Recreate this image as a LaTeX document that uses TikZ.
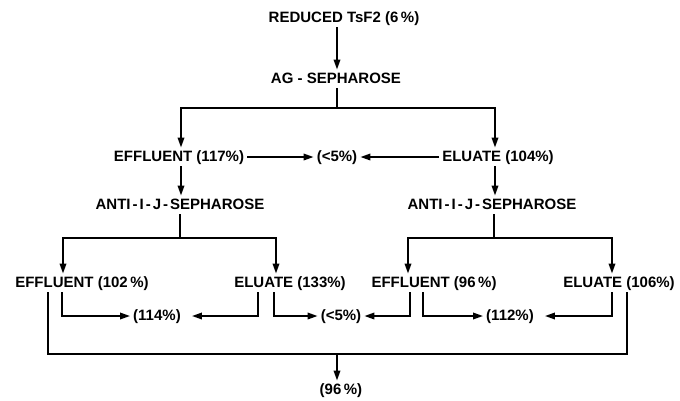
\documentclass[tikz,border=0pt]{standalone}
\usepackage{fontspec}
\setmainfont{Liberation Sans}
\usetikzlibrary{arrows.meta}
\begin{document}
\begin{tikzpicture}[x=1pt,y=-1pt,
  lbl/.style={font=\fontsize{15}{15}\selectfont\bfseries, inner sep=3pt, text height=10.5pt, text depth=2pt},
  ln/.style={line width=1.8pt},
  arr/.style={ln,-{Triangle[length=10pt,width=6.5pt]}}]
\useasboundingbox[fill=white] (0,0) rectangle (680,400);
% nodes
\node[lbl] (red)   at (344,18)  {REDUCED TsF2 (6\,\%)};
\node[lbl] (ag)    at (336,79)  {AG - SEPHAROSE};
\node[lbl] (eff1)  at (179,157) {EFFLUENT (117\%)};
\node[lbl] (lt5a)  at (337,157) {(<5\%)};
\node[lbl] (elu1)  at (498,157) {ELUATE (104\%)};
\node[lbl] (anti1) at (180,205) {ANTI\kern2pt-\kern2pt I\kern2pt-\kern2pt J\kern2pt-\kern2pt SEPHAROSE};
\node[lbl] (anti2) at (492,205) {ANTI\kern2pt-\kern2pt I\kern2pt-\kern2pt J\kern2pt-\kern2pt SEPHAROSE};
\node[lbl] (eff2)  at (82,283)  {EFFLUENT (102\,\%)};
\node[lbl] (elu2)  at (290,283) {ELUATE (133\%)};
\node[lbl] (eff3)  at (434,283) {EFFLUENT (96\,\%)};
\node[lbl] (elu3)  at (619,283) {ELUATE (106\%)};
\node[lbl] (p114)  at (157,316) {(114\%)};
\node[lbl] (lt5b)  at (341,316) {(<5\%)};
\node[lbl] (p112)  at (510,316) {(112\%)};
\node[lbl] (p96)   at (341,390) {(96\,\%)};
% split points
\coordinate (s1) at (337,108);
\coordinate (s2) at (180,238);
\coordinate (s3) at (494,238);
\coordinate (s4) at (337,354);
% top
\draw[arr] (red.south -| s1) -- (ag.north -| s1);
\draw[ln] (ag.south -| s1) -- (s1);
\draw[arr] (s1) -| ([xshift=2pt]eff1.north);
\draw[arr] (s1) -| ([xshift=-3pt]elu1.north);
\draw[arr] (eff1.east) -- (lt5a.west);
\draw[arr] (elu1.west) -- (lt5a.east);
\draw[arr] ([xshift=2pt]eff1.south) -- ([xshift=1pt]anti1.north);
\draw[arr] ([xshift=-3pt]elu1.south) -- ([xshift=3pt]anti2.north);
% second split
\draw[ln] (anti1.south -| s2) -- (s2);
\draw[arr] (s2) -| ([xshift=-19pt]eff2.north);
\draw[arr] (s2) -| ([xshift=-14pt]elu2.north);
\draw[ln] (anti2.south -| s3) -- (s3);
\draw[arr] (s3) -| ([xshift=-26pt]eff3.north);
\draw[arr] (s3) -| ([xshift=-7pt]elu3.north);
% bottom brackets
\draw[arr] ([xshift=-20pt]eff2.south) |- (p114.west);
\draw[arr,shorten >=8pt] ([xshift=-32pt]elu2.south) |- (p114.east);
\draw[arr] ([xshift=-16pt]elu2.south) |- (lt5b.west);
\draw[arr] ([xshift=-24pt]eff3.south) |- (lt5b.east);
\draw[arr] ([xshift=-11pt]eff3.south) |- (p112.west);
\draw[arr,shorten >=8pt] ([xshift=-7pt]elu3.south) |- (p112.east);
% collector
\coordinate (c1) at ([xshift=-34pt]eff2.south);
\coordinate (c2) at ([xshift=8pt]elu3.south);
\draw[ln] (c1) -- (c1 |- s4) -- (c2 |- s4) -- (c2);
\draw[arr] (s4) -- (p96.north -| s4);
\end{tikzpicture}
\end{document}
